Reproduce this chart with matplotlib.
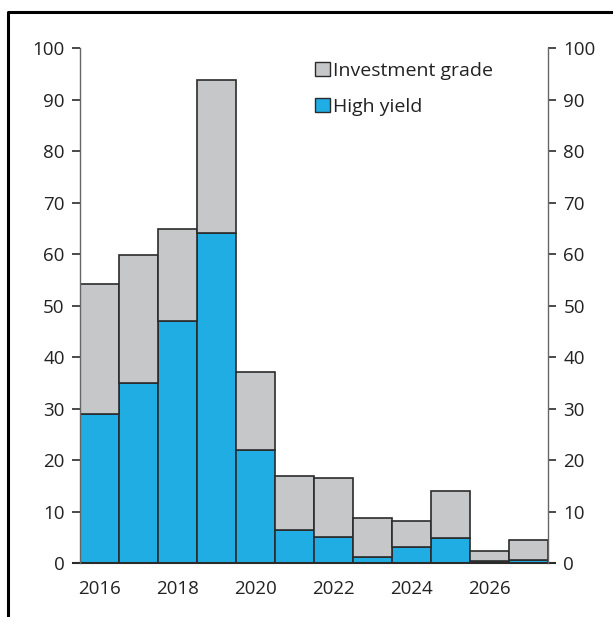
import numpy as np
import matplotlib.pyplot as plt
from matplotlib.lines import Line2D
from matplotlib.patches import Patch

plt.rcParams['font.family'] = ['Open Sans', 'DejaVu Sans']

years = [2016, 2017, 2018, 2019, 2020, 2021, 2022, 2023, 2024, 2025, 2026, 2027]
total = [54.2, 59.8, 64.9, 93.8, 37.1, 16.9, 16.5, 8.7, 8.2, 14.0, 2.3, 4.5]
high_yield = [28.9, 35.0, 47.0, 64.1, 21.9, 6.4, 5.0, 1.2, 3.1, 4.9, 0.4, 0.6]
inv_grade = [t - h for t, h in zip(total, high_yield)]

blue = '#1fade3'
grey = '#c6c7c9'
edge = '#2b2b2b'

fig = plt.figure(figsize=(6.13, 6.17), dpi=100)
ax = fig.add_axes([0.1305, 0.0875, 0.7635, 0.8345])

ax.bar(years, high_yield, width=1.0, color=blue, edgecolor=edge, linewidth=1.2)
ax.bar(years, inv_grade, width=1.0, bottom=high_yield, color=grey, edgecolor=edge, linewidth=1.2)

ax.set_xlim(2015.5, 2027.5)
ax.set_ylim(0, 100)
ax.set_yticks(np.arange(0, 101, 10))
ax.set_xticks(range(2016, 2027, 2))

for s in ['top', 'bottom']:
    ax.spines[s].set_visible(False)
for s in ['left', 'right']:
    ax.spines[s].set_color('#666666')
    ax.spines[s].set_linewidth(1.0)

# baseline extends a bit past the side axes
ax.add_line(Line2D([-0.014, 1.014], [0, 0], transform=ax.transAxes, color=edge,
                   linewidth=1.5, clip_on=False))

ax.tick_params(axis='y', direction='out', length=6, width=1.2, color=edge,
               labelsize=13.5, pad=5, right=True, labelright=True, labelcolor='#222222')
ax.tick_params(axis='x', length=0, labelsize=13.5, pad=12, labelcolor='#222222')

handles = [Patch(facecolor=grey, edgecolor=edge, linewidth=1.0),
           Patch(facecolor=blue, edgecolor=edge, linewidth=1.0)]
ax.legend(handles, ['Investment grade', 'High yield'], loc='upper left',
          bbox_to_anchor=(0.465, 1.008), frameon=False, fontsize=14,
          handlelength=0.75, handleheight=0.75, handletextpad=0.15, labelspacing=0.95,
          labelcolor='#222222')

# outer frame (left and top edges)
fig.add_artist(Line2D([0.013, 0.013, 1.0], [0.0, 0.9806, 0.9806],
                      transform=fig.transFigure, color='black', linewidth=2.2))

fig.savefig('out.png', dpi=100)
